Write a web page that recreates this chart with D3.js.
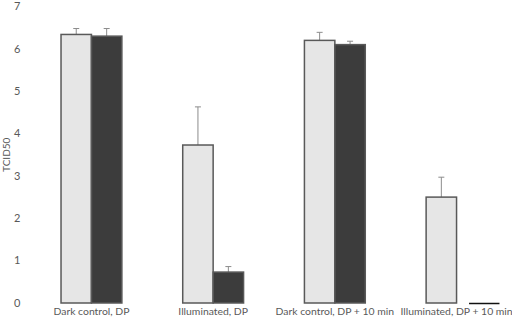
<!DOCTYPE html>
<html>
<head>
<meta charset="utf-8">
<script src="https://cdn.jsdelivr.net/npm/d3@7"></script>
<style>
  body { margin: 0; background: #fff; }
  text { font-family: Lato, "Open Sans", sans-serif; fill: #595959; }
</style>
</head>
<body>
<div id="svg_container"></div>
<script>
// chart data
const categories = ["Dark control, DP", "Illuminated, DP", "Dark control, DP + 10 min", "Illuminated, DP + 10 min"];
const series = ["s1", "s2"];
const lightValues = [6.34, 3.73, 6.2, 2.5];
const lightErrors = [0.14, 0.9, 0.19, 0.47];
const darkValues = [6.3, 0.73, 6.1, 0];
const darkErrors = [0.18, 0.13, 0.08, 0];
const yTicks = [0, 1, 2, 3, 4, 5, 6, 7];

const width = 512, height = 324;

const svg = d3.select("#svg_container")
    .append("svg")
    .attr("width", width)
    .attr("height", height);

const x = d3.scaleBand()
    .domain(categories)
    .range([30.6, 517.4])
    .paddingInner(0.5)
    .paddingOuter(0.25);

const xSub = d3.scaleBand()
    .domain(series)
    .range([0, x.bandwidth()]);

const y = d3.scaleLinear()
    .domain([0, 7])
    .range([303, 6.5]);

// y tick labels, no axis line or grid in the original
svg.append("g")
    .selectAll("text")
    .data(yTicks)
    .enter()
    .append("text")
    .attr("x", 20.5)
    .attr("y", d => y(d))
    .attr("dy", "0.35em")
    .attr("text-anchor", "end")
    .attr("font-size", 11)
    .text(d => d);

// y title
svg.append("text")
    .attr("transform", `translate(6, ${y(3.5)}) rotate(-90)`)
    .attr("text-anchor", "middle")
    .attr("dy", "0.35em")
    .attr("font-size", 10)
    .text("TCID50");

// category labels
svg.append("g")
    .selectAll("text")
    .data(categories)
    .enter()
    .append("text")
    .attr("x", d => x(d) + x.bandwidth() / 2)
    .attr("y", 311)
    .attr("dy", "0.35em")
    .attr("text-anchor", "middle")
    .attr("font-size", 10.4)
    .text(d => d);

const rows = [];
categories.forEach(function (c, i) {
    rows.push({ cat: c, s: "s1", v: lightValues[i], e: lightErrors[i] });
    rows.push({ cat: c, s: "s2", v: darkValues[i], e: darkErrors[i] });
});

const cx = d => x(d.cat) + xSub(d.s) + xSub.bandwidth() / 2;

// error bars (plus side only)
const err = svg.append("g")
    .selectAll("g")
    .data(rows.filter(d => d.e > 0))
    .enter()
    .append("g")
    .attr("stroke", "#8c8c8c")
    .attr("stroke-width", 1);
err.append("line")
    .attr("x1", cx)
    .attr("x2", cx)
    .attr("y1", d => y(d.v))
    .attr("y2", d => y(d.v + d.e));
err.append("line")
    .attr("x1", d => cx(d) - 3)
    .attr("x2", d => cx(d) + 3)
    .attr("y1", d => y(d.v + d.e))
    .attr("y2", d => y(d.v + d.e));

// bars
svg.append("g")
    .selectAll("rect")
    .data(rows.filter(d => d.v > 0))
    .enter()
    .append("rect")
    .attr("x", d => x(d.cat) + xSub(d.s))
    .attr("y", d => y(d.v))
    .attr("width", xSub.bandwidth())
    .attr("height", d => y(0) - y(d.v))
    .attr("fill", d => d.s === "s1" ? "#e6e6e6" : "#3c3c3c")
    .attr("stroke", "#595959")
    .attr("stroke-width", 1.5);

// zero values are marked with a short black line, set a bit to the right
const zeroShift = 12.5;
svg.append("g")
    .selectAll("line")
    .data(rows.filter(d => d.v === 0))
    .enter()
    .append("line")
    .attr("x1", d => x(d.cat) + xSub(d.s) + zeroShift)
    .attr("x2", d => x(d.cat) + xSub(d.s) + zeroShift + xSub.bandwidth())
    .attr("y1", y(0) + 0.5)
    .attr("y2", y(0) + 0.5)
    .attr("stroke", "#111")
    .attr("stroke-width", 1.5);
</script>
</body>
</html>
